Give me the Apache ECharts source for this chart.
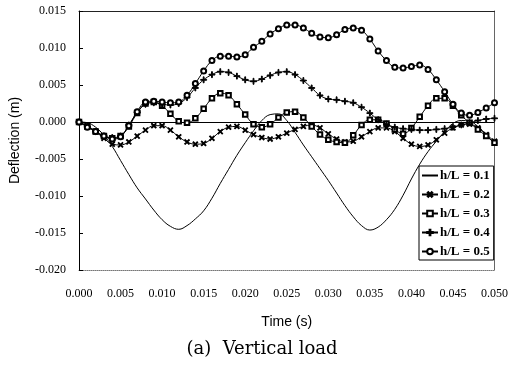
<!DOCTYPE html>
<html>
<head>
<meta charset="utf-8">
<script src="https://cdn.jsdelivr.net/npm/echarts@6/dist/echarts.min.js"></script>
<style>html,body{margin:0;padding:0;background:#fff}#c{width:511px;height:367px}</style>
</head>
<body>
<div id="c"></div>
<script>
const time = [0.000,0.001,0.002,0.003,0.004,0.005,0.006,0.007,0.008,0.009,
  0.010,0.011,0.012,0.013,0.014,0.015,0.016,0.017,0.018,0.019,
  0.020,0.021,0.022,0.023,0.024,0.025,0.026,0.027,0.028,0.029,
  0.030,0.031,0.032,0.033,0.034,0.035,0.036,0.037,0.038,0.039,
  0.040,0.041,0.042,0.043,0.044,0.045,0.046,0.047,0.048,0.049,0.050];

const seriesNames = ['h/L = 0.1','h/L = 0.2','h/L = 0.3','h/L = 0.4','h/L = 0.5'];

const hL01 = [0,-0.0001,-0.0007,-0.0018,-0.0033,-0.0052,-0.0071,-0.0089,-0.0104,-0.0119,
  -0.0132,-0.0141,-0.0145,-0.0140,-0.0131,-0.0120,-0.0103,-0.0083,-0.0064,-0.0045,
  -0.0028,-0.0012,0.0002,0.0010,0.0011,0.0002,-0.0014,-0.0031,-0.0047,-0.0063,
  -0.0079,-0.0096,-0.0113,-0.0128,-0.0140,-0.0146,-0.0142,-0.0132,-0.0118,-0.0099,
  -0.0077,-0.0057,-0.0040,-0.0026,-0.0013,-0.0002,0.0002,0.0001,-0.0006,-0.0017,-0.0030];

const hL02 = [0,-0.0005,-0.0013,-0.0022,-0.0030,-0.0031,-0.0027,-0.0019,-0.0011,-0.0005,
  -0.0005,-0.0011,-0.0020,-0.0027,-0.0030,-0.0029,-0.0022,-0.0013,-0.0007,-0.0006,
  -0.0011,-0.0017,-0.0021,-0.0023,-0.0020,-0.0015,-0.0010,-0.0006,-0.0004,-0.0008,
  -0.0016,-0.0023,-0.0027,-0.0026,-0.0020,-0.0013,-0.0008,-0.0008,-0.0013,-0.0022,
  -0.0030,-0.0033,-0.0031,-0.0024,-0.0015,-0.0008,-0.0004,-0.0003,-0.0008,-0.0017,-0.0026];

const hL03 = [0,-0.0006,-0.0013,-0.0019,-0.0022,-0.0019,-0.0006,0.0012,0.0025,0.0027,
  0.0022,0.0011,0.0001,-0.0001,0.0005,0.0018,0.0032,0.0039,0.0036,0.0024,
  0.0010,-0.0003,-0.0007,-0.0003,0.0006,0.0013,0.0014,0.0006,-0.0006,-0.0017,
  -0.0024,-0.0027,-0.0028,-0.0018,-0.0004,0.0003,0.0003,-0.0002,-0.0010,-0.0016,
  -0.0008,0.0007,0.0022,0.0032,0.0032,0.0022,0.0009,-0.0001,-0.0010,-0.0019,-0.0028];

const hL04 = [0,-0.0006,-0.0013,-0.0019,-0.0021,-0.0019,-0.0004,0.0013,0.0024,0.0026,
  0.0024,0.0023,0.0025,0.0033,0.0046,0.0057,0.0064,0.0068,0.0067,0.0062,
  0.0057,0.0055,0.0058,0.0063,0.0067,0.0068,0.0064,0.0056,0.0046,0.0036,
  0.0031,0.0030,0.0028,0.0026,0.0020,0.0012,0.0003,-0.0003,-0.0007,-0.0009,
  -0.0010,-0.0011,-0.0011,-0.0010,-0.0009,-0.0007,-0.0004,-0.0001,0.0002,0.0004,0.0005];

const hL05 = [0,-0.0007,-0.0013,-0.0019,-0.0023,-0.0020,-0.0005,0.0014,0.0027,0.0028,
  0.0027,0.0026,0.0027,0.0036,0.0052,0.0069,0.0083,0.0089,0.0089,0.0088,
  0.0091,0.0101,0.0109,0.0119,0.0126,0.0131,0.0131,0.0127,0.0120,0.0115,
  0.0114,0.0118,0.0125,0.0127,0.0124,0.0112,0.0096,0.0083,0.0074,0.0073,
  0.0075,0.0077,0.0071,0.0057,0.0041,0.0024,0.0012,0.0009,0.0013,0.0019,0.0026];

const xTicks = {min: 0, max: 0.05, interval: 0.005};
const yTicks = {min: -0.02, max: 0.015, interval: 0.005};

const SERIF = "'Liberation Serif','Times New Roman',serif";
const SANS = "'Liberation Sans',Arial,sans-serif";
const PLUS = 'path://M4.3,0H5.7V4.3H10V5.7H5.7V10H4.3V5.7H0V4.3H4.3Z';

function pairs(arr){ return time.map((t,i)=>[t, arr[i]]); }

const styles = [
  {symbol:'none', size:0, rot:0},
  {symbol:PLUS, size:6, rot:45},
  {symbol:'emptyRect', size:4.5, rot:0},
  {symbol:PLUS, size:6, rot:0},
  {symbol:'emptyCircle', size:5, rot:0}
];
const allData = [hL01,hL02,hL03,hL04,hL05];

const series = allData.map((d,i)=>({
  name: seriesNames[i],
  type: 'line',
  xAxisIndex: 0, yAxisIndex: 0,
  data: pairs(d),
  smooth: 0.4,
  showSymbol: styles[i].symbol !== 'none',
  symbol: styles[i].symbol,
  symbolSize: styles[i].size,
  symbolRotate: styles[i].rot,
  lineStyle: {color:'#000', width: 1},
  itemStyle: {color:'#000', borderColor:'#000', borderWidth: i===4 ? 1.3 : 1},
  emphasis: {disabled: true},
  animation: false,
  z: 3 + i
}));

series[0].markLine = {
  silent: true, symbol: 'none', animation: false,
  label: {show: false},
  lineStyle: {color:'#000', width: 1, type:'solid'},
  data: [{yAxis: 0}]
};

const legendData = seriesNames.map((n,i)=> i===0 ? {name:n, itemStyle:{opacity:0}} : {name:n});

const chart = echarts.init(document.getElementById('c'), null, {renderer:'canvas'});
chart.setOption({
  backgroundColor: '#fff',
  animation: false,
  grid: {left: 74, right: 16, top: 11, bottom: 97, containLabel: false},
  xAxis: [
    {type:'value', position:'bottom', min:xTicks.min, max:xTicks.max, interval:xTicks.interval,
     axisLine:{onZero:false, lineStyle:{color:'#777', width:1, type:'dotted'}},
     axisTick:{show:false}, splitLine:{show:false},
     axisLabel:{margin:18, color:'#000', fontFamily:SERIF, fontSize:12, formatter:v=>v.toFixed(3)},
     name:'Time (s)', nameLocation:'middle', nameGap:45,
     nameTextStyle:{color:'#000', fontFamily:SANS, fontSize:14}},
    {type:'value', position:'top', min:xTicks.min, max:xTicks.max, interval:xTicks.interval,
     axisLine:{show:true, onZero:false, lineStyle:{color:'#222', width:1}},
     axisTick:{show:false}, axisLabel:{show:false}, splitLine:{show:false}}
  ],
  yAxis: [
    {type:'value', position:'left', min:yTicks.min, max:yTicks.max, interval:yTicks.interval,
     axisLine:{show:true, onZero:false, lineStyle:{color:'#000', width:1}},
     axisTick:{show:true, inside:true, length:4, lineStyle:{color:'#000'}},
     splitLine:{show:false},
     axisLabel:{margin:13, color:'#000', fontFamily:SERIF, fontSize:12, formatter:v=>v.toFixed(3)},
     name:'Deflection (m)', nameLocation:'middle', nameGap:57, nameRotate:90,
     nameTextStyle:{color:'#000', fontFamily:SANS, fontSize:14}},
    {type:'value', position:'right', min:yTicks.min, max:yTicks.max, interval:yTicks.interval,
     axisLine:{show:true, onZero:false, lineStyle:{color:'#666', width:1}},
     axisTick:{show:false}, axisLabel:{show:false}, splitLine:{show:false}}
  ],
  legend: {
    orient:'vertical', left:419, top:166,
    itemWidth:16, itemHeight:7, itemGap:6,
    padding:[3,4,2,2], borderColor:'#000', borderWidth:1, backgroundColor:'#fff',
    selectedMode:false,
    textStyle:{color:'#000', fontFamily:SERIF, fontSize:13, fontWeight:'bold', padding:[0,0,0,-3]},
    data: legendData
  },
  graphic: [{
    type:'text', x:262, y:349,
    style:{text:'(a)  Vertical load', fill:'#000', font:"18px 'DejaVu Serif','Liberation Serif',serif",
           textAlign:'center', textVerticalAlign:'middle'}
  }],
  series: series
});
</script>
</body>
</html>
